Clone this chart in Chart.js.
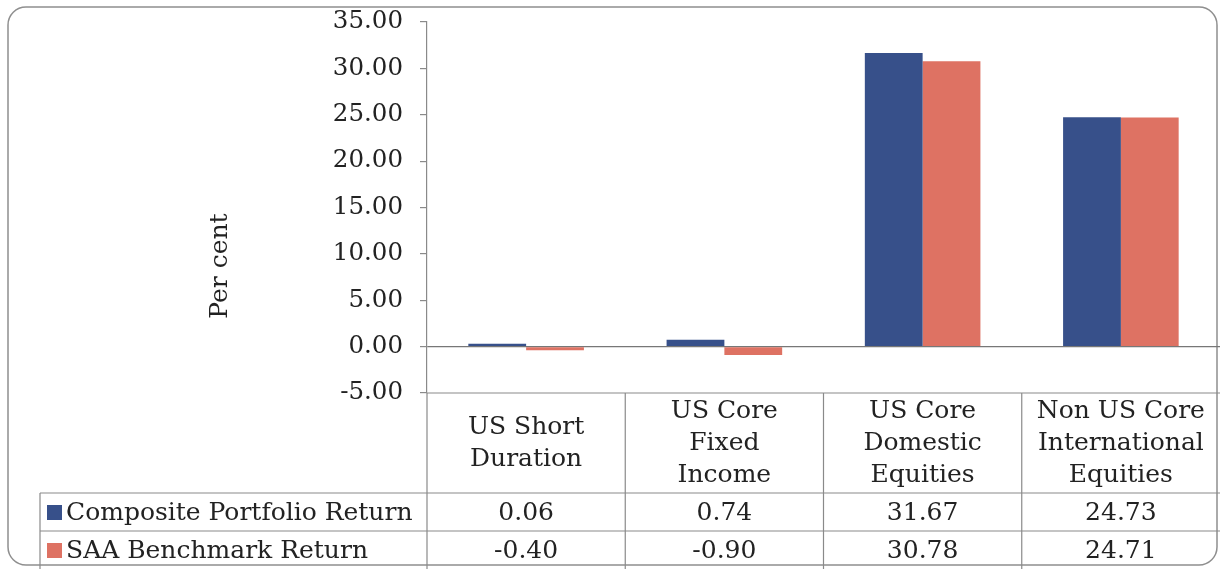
<!DOCTYPE html>
<html>
<head>
<meta charset="utf-8">
<script src="https://cdn.jsdelivr.net/npm/chart.js@4/dist/chart.umd.min.js"></script>
<style>
  html, body { margin: 0; padding: 0; background: #fff; }
  #wrap { width: 1220px; height: 569px; position: relative; }
</style>
</head>
<body>
<div id="wrap"><canvas id="myChart" width="1220" height="569"></canvas></div>
<script>
const categories = [
    ['US Short', 'Duration'],
    ['US Core', 'Fixed', 'Income'],
    ['US Core', 'Domestic', 'Equities'],
    ['Non US Core', 'International', 'Equities']
];
const seriesNames = ['Composite Portfolio Return', 'SAA Benchmark Return'];
const compositeReturn = [0.06, 0.74, 31.67, 24.73];
const benchmarkReturn = [-0.40, -0.90, 30.78, 24.71];
const yTicks = [-5, 0, 5, 10, 15, 20, 25, 30, 35];

const blue = '#37508a';
const red = '#de7263';
const lineGrey = '#8a8a8a';
const textColor = '#222222';
const fontFamily = "'DejaVu Serif', serif";

Chart.defaults.font.family = fontFamily;
Chart.defaults.color = textColor;

// outer rounded frame, "Per cent" label and the data table under the plot
const tablePlugin = {
    id: 'tablePlugin',
    beforeDraw(chart) {
        const ctx = chart.ctx;
        ctx.save();
        ctx.strokeStyle = '#8f8f8f';
        ctx.lineWidth = 1.5;
        ctx.beginPath();
        ctx.roundRect(8, 7, 1209, 558, 18);
        ctx.stroke();
        ctx.restore();
    },
    afterDraw(chart) {
        const ctx = chart.ctx;
        const x = chart.scales.x;
        const area = chart.chartArea;
        const colW = x.width / categories.length;
        const headTop = area.bottom;
        const headBottom = 493;
        const row1 = 531;
        const row2 = 569;
        const leftEdge = 40;

        ctx.save();
        ctx.strokeStyle = lineGrey;
        ctx.lineWidth = 1.2;
        ctx.beginPath();
        // horizontal lines
        ctx.moveTo(area.left, headTop); ctx.lineTo(area.right, headTop);
        ctx.moveTo(leftEdge, headBottom); ctx.lineTo(area.right, headBottom);
        ctx.moveTo(leftEdge, row1); ctx.lineTo(area.right, row1);
        // vertical lines
        ctx.moveTo(leftEdge, headBottom); ctx.lineTo(leftEdge, row2);
        for (let i = 0; i < categories.length; i++) {
            const cx = x.getPixelForValue(i);
            const l = cx - colW / 2;
            ctx.moveTo(l, headTop); ctx.lineTo(l, row2);
        }
        ctx.stroke();

        // category header
        ctx.fillStyle = textColor;
        ctx.textAlign = 'center';
        ctx.textBaseline = 'middle';
        ctx.font = '25px ' + fontFamily;
        const lh = 32;
        const midY = (headTop + headBottom) / 2;
        categories.forEach((lines, i) => {
            const cx = x.getPixelForValue(i);
            const y0 = midY - (lines.length - 1) * lh / 2;
            lines.forEach((t, j) => ctx.fillText(t, cx, y0 + j * lh));
        });

        // series rows
        const rows = [compositeReturn, benchmarkReturn];
        const colors = [blue, red];
        const rowMids = [(headBottom + row1) / 2, (row1 + row2) / 2];
        rows.forEach((vals, r) => {
            const y = rowMids[r];
            ctx.fillStyle = colors[r];
            ctx.fillRect(47, y - 7, 15, 15);
            ctx.fillStyle = textColor;
            ctx.textAlign = 'left';
            ctx.fillText(seriesNames[r], 66, y + 1);
            ctx.textAlign = 'center';
            vals.forEach((v, i) => {
                ctx.fillText(v.toFixed(2), x.getPixelForValue(i), y + 1);
            });
        });

        // axis title
        ctx.save();
        ctx.translate(220, 266);
        ctx.rotate(-Math.PI / 2);
        ctx.textAlign = 'center';
        ctx.fillText('Per cent', 0, 0);
        ctx.restore();
        ctx.restore();
    }
};

const ctx = document.getElementById('myChart').getContext('2d');
const myChart = new Chart(ctx, {
    type: 'bar',
    data: {
        labels: categories.map(c => c.join(' ')),
        datasets: [{
            label: seriesNames[0],
            data: compositeReturn,
            backgroundColor: blue,
            categoryPercentage: 0.583,
            barPercentage: 1.0,
            minBarLength: 3
        }, {
            label: seriesNames[1],
            data: benchmarkReturn,
            backgroundColor: red,
            categoryPercentage: 0.583,
            barPercentage: 1.0,
            minBarLength: 3
        }]
    },
    options: {
        responsive: false,
        animation: false,
        layout: {
            padding: { top: 22, bottom: 176, left: 0, right: -3 }
        },
        plugins: {
            legend: { display: false },
            tooltip: { enabled: false }
        },
        scales: {
            x: {
                display: false
            },
            y: {
                min: yTicks[0],
                max: yTicks[yTicks.length - 1],
                afterBuildTicks: axis => {
                    axis.ticks = yTicks.map(v => ({ value: v }));
                },
                afterFit: axis => {
                    axis.width = 427;
                    axis.paddingTop = 0;
                    axis.paddingBottom = 0;
                },
                border: { display: true, color: lineGrey, width: 1.2 },
                grid: {
                    drawOnChartArea: true,
                    color: c => (c.tick && c.tick.value === 0) ? '#777777' : 'rgba(0,0,0,0)',
                    tickColor: lineGrey,
                    tickLength: 7,
                    lineWidth: 1.2
                },
                ticks: {
                    padding: 17,
                    font: { size: 24.5 },
                    color: textColor,
                    callback: v => Number(v).toFixed(2)
                }
            }
        }
    },
    plugins: [tablePlugin]
});
</script>
</body>
</html>
